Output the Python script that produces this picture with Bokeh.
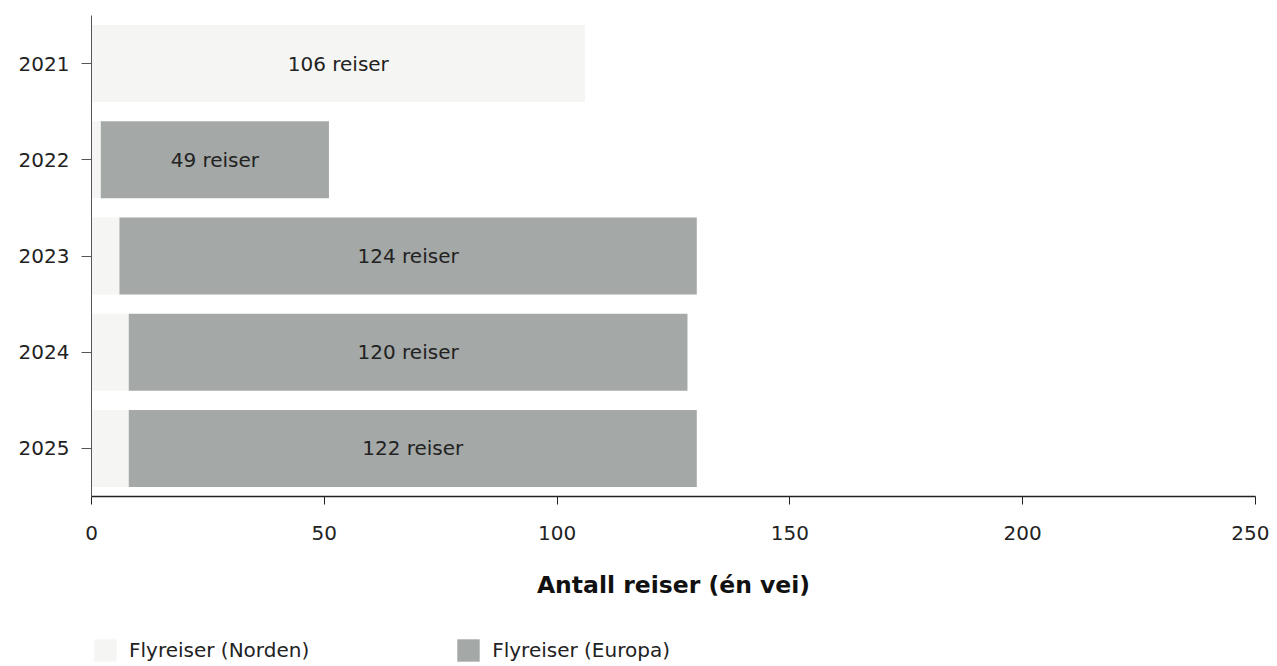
from bokeh.plotting import figure
from bokeh.layouts import column
from bokeh.models import ColumnDataSource, Legend, LegendItem, LabelSet, FixedTicker
from bokeh.core.properties import value
from bokeh.embed import file_html
from bokeh.resources import INLINE

years = ["2021", "2022", "2023", "2024", "2025"]
norden = [106, 2, 6, 8, 8]
europa = [0, 49, 124, 120, 122]
series_names = ["Flyreiser (Norden)", "Flyreiser (Europa)"]
x_ticks = [0, 50, 100, 150, 200, 250]

FONT = "DejaVu Sans"
C_NORDEN = "#f5f5f3"
C_EUROPA = "#a4a8a7"

# label: value of the dominant segment, centred on it
lab_x, lab_text = [], []
for n, e in zip(norden, europa):
    if n >= e:
        lab_x.append(n / 2)
        lab_text.append(f"{n} reiser")
    else:
        lab_x.append(n + e / 2)
        lab_text.append(f"{e} reiser")

src = ColumnDataSource(dict(year=years, norden=norden, europa=europa,
                            lab_x=lab_x, lab_text=lab_text))

p = figure(y_range=list(reversed(years)), x_range=(0, 250),
           width=1269, height=606,
           output_backend="svg", toolbar_location=None,
           min_border_left=91, min_border_top=15, min_border_right=14,
           min_border_bottom=110,
           background_fill_color="white", border_fill_color="white")
p.outline_line_color = None

rs = p.hbar_stack(["norden", "europa"], y="year", height=0.8, source=src,
                  color=[C_NORDEN, C_EUROPA], line_color=None)

labels = LabelSet(x="lab_x", y="year", text="lab_text", source=src,
                  text_align="center", text_baseline="middle",
                  text_font=value(FONT), text_font_size=value("20px"),
                  text_color="#222222")
p.add_layout(labels)

p.xgrid.grid_line_color = None
p.ygrid.grid_line_color = None

xa = p.xaxis[0]
xa.ticker = FixedTicker(ticks=x_ticks)
xa.axis_label = "Antall reiser (én vei)"
xa.axis_label_text_font = FONT
xa.axis_label_text_font_style = "bold"
xa.axis_label_text_font_size = "23.5px"
xa.axis_label_text_color = "#111111"
xa.axis_label_standoff = 28
xa.major_label_text_font = FONT
xa.major_label_text_font_size = "20px"
xa.major_label_text_color = "#222222"
xa.major_label_standoff = 21
xa.major_tick_out = 8
xa.major_tick_in = 0
xa.minor_tick_line_color = None
xa.axis_line_color = "#222222"
xa.axis_line_width = 1.5
xa.major_tick_line_color = "#222222"

ya = p.yaxis[0]
ya.major_label_text_font = FONT
ya.major_label_text_font_size = "20px"
ya.major_label_text_color = "#222222"
ya.major_label_standoff = 12
ya.major_tick_out = 10
ya.major_tick_in = 0
ya.axis_line_color = "#555555"
ya.major_tick_line_color = "#555555"

# legend strip below the chart (same series, renderers hidden)
pl = figure(y_range=list(reversed(years)), x_range=(0, 250),
            width=1269, height=58, x_axis_type=None, y_axis_type=None,
            output_backend="svg", toolbar_location=None, min_border=0,
            background_fill_color="white", border_fill_color="white")
pl.outline_line_color = None
pl.xgrid.grid_line_color = None
pl.ygrid.grid_line_color = None
rl = pl.hbar_stack(["norden", "europa"], y="year", height=0.8, source=src,
                   color=[C_NORDEN, C_EUROPA], line_color=None)
for r in rl:
    r.visible = False

legend = Legend(items=[LegendItem(label=series_names[0], renderers=[rl[0]]),
                       LegendItem(label=series_names[1], renderers=[rl[1]])],
                orientation="horizontal", location=(0, 0),
                label_text_font=FONT, label_text_font_size="20px",
                label_text_color="#222222",
                glyph_width=28, glyph_height=28, label_standoff=10,
                label_height=28,
                spacing=145, padding=0, margin=0,
                border_line_color=None, background_fill_alpha=0)
pl.add_layout(legend, "center")

layout = column(p, pl, spacing=0)
open("out.html", "w").write(file_html(layout, INLINE))
